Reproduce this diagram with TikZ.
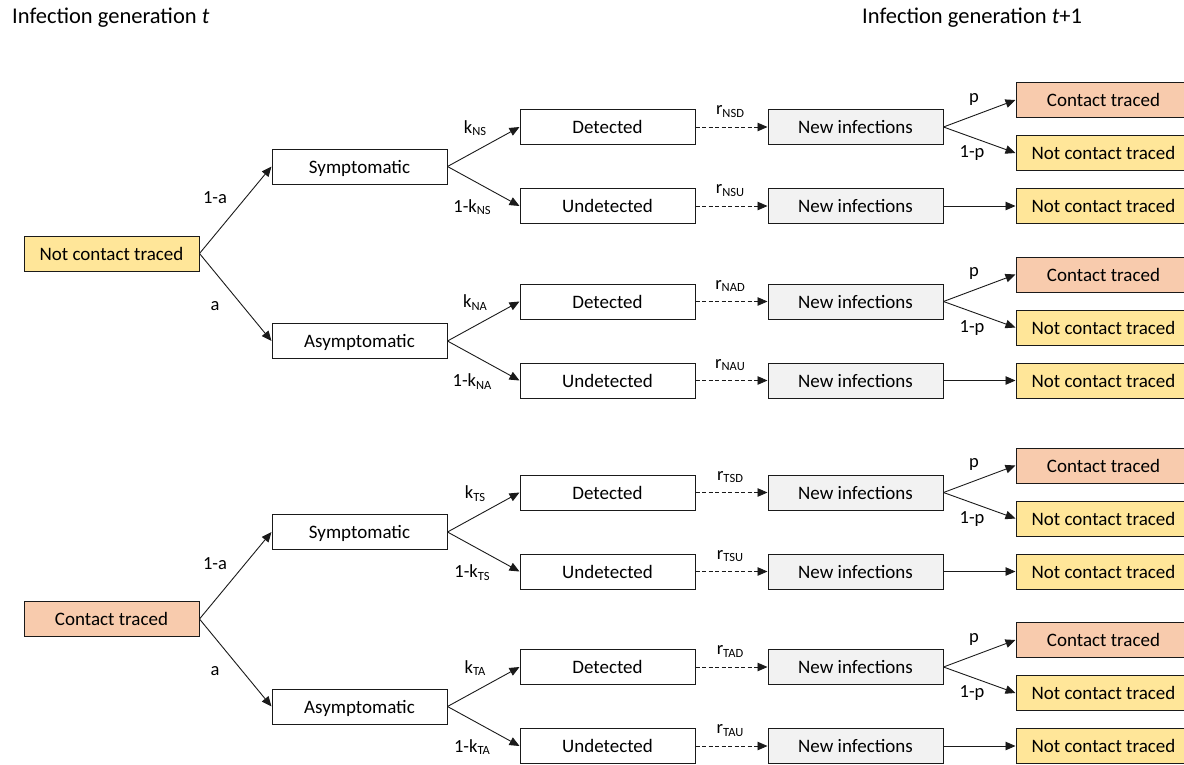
\documentclass[tikz,border=0pt]{standalone}
\usepackage{fontspec}
\setmainfont{Carlito}
\usetikzlibrary{arrows.meta}
\definecolor{ctfill}{HTML}{F8CBAD}
\definecolor{nctfill}{HTML}{FFE699}
\definecolor{nifill}{HTML}{F2F2F2}
\definecolor{edge}{HTML}{1A1A1A}
\newcommand\sbs[1]{\raisebox{-0.3ex}{\fontsize{12.5}{14}\selectfont #1}}
\tikzset{
  box/.style={draw=edge, line width=1pt, minimum width=175pt, minimum height=35pt,
    inner sep=0pt, text height=13pt, text depth=0pt, font=\fontsize{19}{23}\selectfont},
  whitebox/.style={box, fill=white},
  nibox/.style={box, fill=nifill},
  ctbox/.style={box, fill=ctfill},
  nctbox/.style={box, fill=nctfill},
  lbl/.style={font=\fontsize{18.5}{22}\selectfont, inner sep=0pt},
  conn/.style={draw=edge, line width=0.9pt, -{Triangle[length=10pt,width=8.5pt]}},
  dconn/.style={conn, dash pattern=on 4pt off 2.5pt},
}
% #1 prefix, #2 y of parent (Sym/Asym) node, #3 parent node name, #4 subscript letters
\newcommand\detbranch[4]{%
  \node[whitebox] (#1D) at (607.5,{#2-39.5}) {Detected};
  \node[whitebox] (#1U) at (607.5,{#2+39.5}) {Undetected};
  \node[nibox] (#1Dn) at (855.5,{#2-39.5}) {New infections};
  \node[nibox] (#1Un) at (855.5,{#2+39.5}) {New infections};
  \node[ctbox] (#1Dc) at (1103.5,{#2-66.5}) {Contact traced};
  \node[nctbox] (#1Dnc) at (1103.5,{#2-13.5}) {Not contact traced};
  \node[nctbox] (#1Unc) at (1103.5,{#2+39.5}) {Not contact traced};
  \draw[conn] (#3.east) -- (#1D.west);
  \draw[conn] (#3.east) -- (#1U.west);
  \draw[dconn] (#1D) -- (#1Dn);
  \draw[dconn] (#1U) -- (#1Un);
  \draw[conn] (#1Dn.east) -- (#1Dc.west);
  \draw[conn] (#1Dn.east) -- (#1Dnc.west);
  \draw[conn] (#1Un) -- (#1Unc);
  \node[lbl] (#1kl) at (475,{#2-38.5}) {k\sbs{#4}};
  \node[lbl] (#1kul) at (472,{#2+40.5}) {1-k\sbs{#4}};
  \node[lbl] (#1rd) at (730,{#2-55}) {r\sbs{#4D}};
  \node[lbl] (#1ru) at (730,{#2+24}) {r\sbs{#4U}};
  \node[lbl] (#1p) at (974,{#2-67.5}) {p};
  \node[lbl] (#1np) at (972,{#2-13}) {1-p};
}
\begin{document}
\begin{tikzpicture}[x=1pt,y=-1pt]
\useasboundingbox (0,0) rectangle (1184,764);
\clip (0,0) rectangle (1184,764);
\node[lbl, anchor=west, font=\fontsize{22.5}{26}\selectfont] (tl) at (12,18) {Infection generation \textit{t}};
\node[lbl, anchor=west, font=\fontsize{22.5}{26}\selectfont] (tr) at (862,18) {Infection generation \textit{t}+1};
% top tree
\node[nctbox] (R1) at (111.5,253.5) {Not contact traced};
\node[whitebox] (S1) at (359.5,166.5) {Symptomatic};
\node[whitebox] (A1) at (359.5,341) {Asymptomatic};
\draw[conn] (R1.east) -- (S1.west);
\draw[conn] (R1.east) -- (A1.west);
\node[lbl] (l1a) at (215,198) {1-a};
\node[lbl] (la1) at (215,306) {a};
\detbranch{NS}{166.5}{S1}{NS}
\detbranch{NA}{341}{A1}{NA}
% bottom tree
\node[ctbox] (R2) at (111.5,619) {Contact traced};
\node[whitebox] (S2) at (359.5,532) {Symptomatic};
\node[whitebox] (A2) at (359.5,706.5) {Asymptomatic};
\draw[conn] (R2.east) -- (S2.west);
\draw[conn] (R2.east) -- (A2.west);
\node[lbl] (l2a) at (215,563.5) {1-a};
\node[lbl] (la2) at (215,671.5) {a};
\detbranch{TS}{532}{S2}{TS}
\detbranch{TA}{706.5}{A2}{TA}
\end{tikzpicture}
\end{document}
